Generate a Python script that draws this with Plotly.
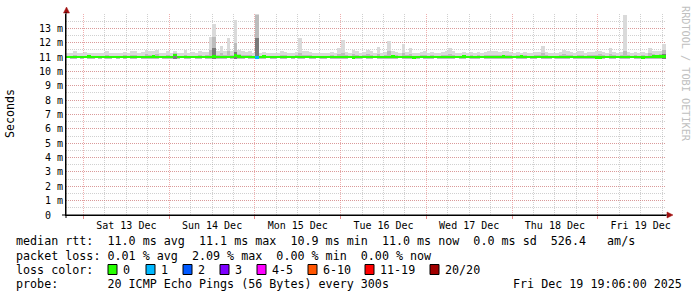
import pandas as pd
import plotly.graph_objects as go

# ---------------- data ----------------
START = "2025-12-12 19:06:00"
END = "2025-12-19 19:06:00"

# hourly smoke: top of outer (light) band, ms
smoke_hi = [
    11.30, 11.30, 11.45, 11.30, 11.25, 11.35, 11.30, 11.30, 11.30, 11.25, 11.30, 11.45, 11.30, 11.30, 11.30, 11.30, 11.35, 11.30, 11.45, 11.40, 11.30, 11.35, 11.50, 11.45,
    11.45, 11.50, 11.30, 11.30, 11.45, 11.30, 11.45, 11.30, 11.30, 11.50, 11.30, 11.35, 11.30, 11.40, 11.35, 11.35, 12.40, 13.30, 11.40, 11.80, 11.40, 12.30, 11.45, 13.60,
    11.50, 11.40, 11.35, 11.40, 11.30, 14.00, 11.30, 11.35, 11.30, 11.25, 11.30, 11.30, 11.45, 11.35, 11.30, 11.30, 11.35, 12.30, 11.40, 11.40, 11.35, 11.30, 11.30, 11.30,
    11.30, 11.30, 11.35, 11.30, 11.60, 12.20, 11.35, 11.30, 11.50, 11.45, 11.30, 11.35, 11.50, 11.40, 11.30, 11.70, 11.30, 11.35, 12.10, 11.40, 11.35, 11.30, 11.90, 11.35,
    11.60, 11.30, 11.30, 11.35, 11.40, 11.30, 11.35, 11.30, 11.30, 11.35, 11.40, 11.60, 11.40, 11.30, 11.30, 11.35, 11.30, 11.35, 11.30, 11.35, 11.30, 11.35, 11.40, 11.40,
    11.40, 11.35, 11.40, 11.40, 11.35, 11.30, 11.35, 11.30, 11.35, 11.30, 11.30, 11.35, 11.35, 11.80, 11.35, 11.30, 11.30, 11.30, 11.35, 11.50, 11.40, 11.35, 11.30, 11.40,
    11.40, 11.30, 11.35, 11.35, 11.40, 11.45, 11.35, 11.30, 11.60, 11.35, 11.30, 11.35, 13.90, 11.35, 11.30, 11.35, 11.30, 11.35, 11.30, 11.60, 11.45, 11.40, 11.45, 11.90,
]

# top of the middle (medium gray) band, ms
smoke_mid = [
    11.10, 11.10, 11.15, 11.10, 11.10, 11.10, 11.12, 11.10, 11.10, 11.10, 11.10, 11.15, 11.10, 11.10, 11.10, 11.10, 11.12, 11.10, 11.15, 11.12, 11.10, 11.10, 11.20, 11.15,
    11.15, 11.20, 11.10, 11.10, 11.15, 11.10, 11.25, 11.10, 11.10, 11.15, 11.10, 11.10, 11.10, 11.15, 11.10, 11.12, 11.50, 12.40, 11.15, 11.30, 11.12, 11.40, 11.15, 12.00,
    11.20, 11.15, 11.12, 11.15, 11.10, 13.90, 11.10, 11.12, 11.10, 11.10, 11.10, 11.10, 11.15, 11.12, 11.10, 11.10, 11.12, 11.30, 11.15, 11.15, 11.12, 11.10, 11.10, 11.10,
    11.10, 11.10, 11.12, 11.10, 11.20, 11.30, 11.12, 11.10, 11.20, 11.15, 11.10, 11.12, 11.20, 11.15, 11.10, 11.20, 11.10, 11.12, 11.40, 11.15, 11.12, 11.10, 11.30, 11.12,
    11.20, 11.10, 11.10, 11.12, 11.15, 11.10, 11.12, 11.10, 11.10, 11.12, 11.15, 11.20, 11.15, 11.10, 11.10, 11.12, 11.10, 11.12, 11.10, 11.12, 11.10, 11.12, 11.15, 11.15,
    11.15, 11.12, 11.15, 11.15, 11.12, 11.10, 11.12, 11.10, 11.12, 11.10, 11.10, 11.12, 11.12, 11.25, 11.12, 11.10, 11.10, 11.10, 11.12, 11.20, 11.15, 11.12, 11.10, 11.15,
    11.15, 11.10, 11.12, 11.12, 11.15, 11.20, 11.12, 11.10, 11.20, 11.12, 11.10, 11.12, 11.40, 11.12, 11.10, 11.12, 11.10, 11.12, 11.10, 11.25, 11.20, 11.15, 11.20, 11.50,
]

# bottom of smoke, ms
smoke_lo = [
    10.92, 10.90, 10.88, 10.92, 10.90, 10.92, 10.86, 10.88, 10.92, 10.90, 10.92, 10.90, 10.88, 10.92, 10.90, 10.92, 10.90, 10.92, 10.88, 10.90, 10.92, 10.90, 10.88, 10.90,
    10.86, 10.90, 10.92, 10.90, 10.88, 10.90, 10.85, 10.90, 10.92, 10.90, 10.88, 10.92, 10.90, 10.88, 10.92, 10.90, 10.88, 10.85, 10.90, 10.88, 10.90, 10.92, 10.88, 10.86,
    10.88, 10.90, 10.92, 10.90, 10.88, 10.85, 10.90, 10.88, 10.92, 10.90, 10.88, 10.92, 10.90, 10.88, 10.92, 10.90, 10.92, 10.88, 10.90, 10.92, 10.90, 10.88, 10.92, 10.90,
    10.90, 10.92, 10.88, 10.90, 10.88, 10.86, 10.90, 10.92, 10.86, 10.88, 10.90, 10.92, 10.88, 10.90, 10.92, 10.85, 10.90, 10.88, 10.86, 10.90, 10.88, 10.92, 10.86, 10.90,
    10.86, 10.88, 10.90, 10.92, 10.90, 10.88, 10.90, 10.92, 10.88, 10.90, 10.88, 10.86, 10.90, 10.92, 10.88, 10.90, 10.92, 10.90, 10.88, 10.90, 10.92, 10.90, 10.88, 10.86,
    10.88, 10.90, 10.86, 10.90, 10.88, 10.92, 10.90, 10.88, 10.90, 10.92, 10.88, 10.90, 10.92, 10.86, 10.90, 10.88, 10.92, 10.90, 10.88, 10.86, 10.90, 10.92, 10.90, 10.88,
    10.86, 10.90, 10.88, 10.86, 10.85, 10.86, 10.90, 10.92, 10.88, 10.90, 10.92, 10.90, 10.86, 10.90, 10.92, 10.88, 10.90, 10.85, 10.90, 10.88, 10.86, 10.86, 10.88, 10.86,
]

# hours where a dark core is visible, and its top (ms)
dark_hours = [30, 41, 47, 53, 167]
dark_top = [11.15, 11.60, 11.35, 12.30, 11.20]

# median rtt per hour, ms
median = [
    11.00, 11.00, 11.00, 11.00, 11.00, 11.00, 11.05, 11.00, 11.00, 11.00, 11.00, 11.00, 11.00, 11.00, 11.00, 11.00, 11.00, 11.00, 11.00, 11.00, 11.00, 11.00, 11.00, 11.00,
    11.05, 11.00, 11.00, 11.00, 11.00, 11.00, 11.15, 11.00, 11.00, 11.00, 11.00, 11.00, 11.00, 11.00, 11.00, 11.00, 11.00, 11.03, 11.00, 11.00, 11.00, 11.00, 11.00, 11.12,
    11.02, 11.00, 11.00, 11.00, 11.00, 10.98, 11.00, 11.02, 11.00, 11.00, 11.00, 11.00, 11.00, 11.00, 11.00, 11.00, 11.00, 11.00, 11.00, 11.00, 11.00, 11.00, 11.00, 11.00,
    11.00, 11.00, 11.00, 11.00, 11.00, 11.00, 11.00, 11.00, 10.98, 11.00, 11.00, 11.00, 11.00, 11.00, 11.00, 11.00, 11.00, 11.00, 11.00, 11.02, 11.00, 11.00, 11.00, 11.00,
    11.00, 10.98, 11.00, 11.00, 11.00, 11.00, 11.00, 11.00, 11.00, 11.00, 11.00, 11.00, 11.00, 11.00, 11.00, 11.02, 11.00, 11.00, 11.00, 11.00, 11.00, 11.00, 11.00, 11.00,
    11.00, 11.00, 11.02, 11.00, 11.00, 11.00, 11.00, 11.02, 11.00, 11.00, 11.00, 11.00, 11.00, 11.00, 11.00, 11.00, 11.00, 11.00, 11.00, 11.00, 11.00, 11.00, 11.00, 11.00,
    11.00, 11.00, 11.00, 11.00, 10.98, 10.98, 11.00, 11.00, 11.00, 11.00, 11.00, 11.00, 11.00, 11.00, 11.00, 11.00, 11.00, 10.98, 11.00, 11.00, 11.02, 11.02, 11.02, 11.02,
]

# lost pings (of 20) per hour
loss = [
    0, 0, 0, 0, 0, 0, 0, 0, 0, 0, 0, 0, 0, 0, 0, 0, 0, 0, 0, 0, 0, 0, 0, 0,
    0, 0, 0, 0, 0, 0, 0, 0, 0, 0, 0, 0, 0, 0, 0, 0, 0, 0, 0, 0, 0, 0, 0, 0,
    0, 0, 0, 0, 0, 1, 0, 0, 0, 0, 0, 0, 0, 0, 0, 0, 0, 0, 0, 0, 0, 0, 0, 0,
    0, 0, 0, 0, 0, 0, 0, 0, 0, 0, 0, 0, 0, 0, 0, 0, 0, 0, 0, 0, 0, 0, 0, 0,
    0, 0, 0, 0, 0, 0, 0, 0, 0, 0, 0, 0, 0, 0, 0, 0, 0, 0, 0, 0, 0, 0, 0, 0,
    0, 0, 0, 0, 0, 0, 0, 0, 0, 0, 0, 0, 0, 0, 0, 0, 0, 0, 0, 0, 0, 0, 0, 0,
    0, 0, 0, 0, 0, 0, 0, 0, 0, 0, 0, 0, 0, 0, 0, 0, 0, 0, 0, 0, 0, 0, 0, 0,
]

loss_labels = ["0", "1", "2", "3", "4-5", "6-10", "11-19", "20/20"]
loss_upper = [0, 1, 2, 3, 5, 10, 19, 20]
loss_colors = ["#26ff00", "#00b8ff", "#0059ff", "#7e00ff", "#ff00ff", "#ff5500", "#ff0000", "#a10000"]

y_tick_vals = list(range(14))
y_tick_text = ["0\u00a0\u00a0"] + [f"{v}\u00a0m" for v in range(1, 14)]

legend_rtt = "median rtt:  11.0 ms avg  11.1 ms max  10.9 ms min  11.0 ms now  0.0 ms sd  526.4   am/s"
legend_loss = "packet loss: 0.01 % avg  2.09 % max  0.00 % min  0.00 % now"
legend_probe = "probe:       20 ICMP Echo Pings (56 Bytes) every 300s"
legend_date = "Fri Dec 19 19:06:00 2025"

# ---------------- figure ----------------
W, H = 697, 297
L, R, T, B = 66, 666, 14, 215
PW, PH = R - L, B - T
MONO = "DejaVu Sans Mono"


def px_x(x):
    return (x - L) / PW


def px_y(y):
    return (B - y) / PH


times = pd.date_range(START, periods=len(median), freq="h") + pd.Timedelta(minutes=30)
HOUR_MS = 3600 * 1000

fig = go.Figure()
fig.add_trace(go.Bar(x=times, y=[h - l for h, l in zip(smoke_hi, smoke_lo)], base=smoke_lo,
                     width=HOUR_MS, marker=dict(color="#dadada", line=dict(width=0)), hoverinfo="skip"))
fig.add_trace(go.Bar(x=times, y=[m - l for m, l in zip(smoke_mid, smoke_lo)], base=smoke_lo,
                     width=HOUR_MS, marker=dict(color="#bcbcbc", line=dict(width=0)), hoverinfo="skip"))
fig.add_trace(go.Bar(x=[times[i] for i in dark_hours],
                     y=[t - smoke_lo[i] for i, t in zip(dark_hours, dark_top)],
                     base=[smoke_lo[i] for i in dark_hours],
                     width=HOUR_MS, marker=dict(color="#7a7a7a", line=dict(width=0)), hoverinfo="skip"))


def loss_color(n):
    for up, c in zip(loss_upper, loss_colors):
        if n <= up:
            return c
    return loss_colors[-1]


MED_HALF = 0.09
fig.add_trace(go.Bar(x=times, y=[2 * MED_HALF] * len(median), base=[m - MED_HALF for m in median],
                     width=HOUR_MS, marker=dict(color=[loss_color(n) for n in loss], line=dict(width=0))))

major_grid = "rgba(225,110,110,0.55)"
minor_grid = "rgba(150,150,150,0.45)"

fig.update_layout(
    width=W, height=H, autosize=False,
    margin=dict(l=L, r=W - R, t=T, b=H - B, pad=0),
    paper_bgcolor="white", plot_bgcolor="white",
    barmode="overlay", bargap=0, showlegend=False,
    font=dict(family=MONO, size=10, color="black"),
    xaxis=dict(
        type="date", range=[START, END],
        tickmode="linear", tick0="2025-12-13", dtick=86400000,
        tickformat="%a %d %b", ticklabelmode="period",
        showgrid=True, gridcolor=major_grid, griddash="1px,1px", gridwidth=1,
        minor=dict(tick0="2025-12-13", dtick=21600000, showgrid=True,
                   gridcolor=minor_grid, griddash="1px,1px", gridwidth=1),
        showline=True, linecolor="black", linewidth=1,
        ticks="outside", ticklen=3, tickcolor="rgba(225,110,110,0.8)",
        ticklabelstandoff=-2,
        zeroline=False, tickfont=dict(family=MONO, size=10, color="black"),
    ),
    yaxis=dict(
        range=[0, 14], tickmode="array", tickvals=y_tick_vals, ticktext=y_tick_text,
        showgrid=True, gridcolor=major_grid, griddash="1px,1px", gridwidth=1,
        minor=dict(tickmode="linear", tick0=0, dtick=0.5, showgrid=True,
                   gridcolor=minor_grid, griddash="1px,1px", gridwidth=1),
        showline=True, linecolor="black", linewidth=1, zeroline=False,
        ticks="", tickfont=dict(family=MONO, size=10, color="black"),
    ),
)

ann = []
ann.append(dict(text="Seconds", x=px_x(10), y=px_y(114), xref="paper", yref="paper",
                textangle=-90, showarrow=False, xanchor="center", yanchor="middle",
                font=dict(family=MONO, size=11.6, color="black")))
ann.append(dict(text="RRDTOOL / TOBI OETIKER", x=px_x(686), y=px_y(74), xref="paper", yref="paper",
                textangle=90, showarrow=False, xanchor="center", yanchor="middle",
                font=dict(family=MONO, size=10.2, color="#c0c0c0")))

LEG_FONT = dict(family=MONO, size=11.7, color="black")


def text_at(s, x, y, anchor="left"):
    ann.append(dict(text=s.replace(" ", "\u00a0"), x=px_x(x), y=px_y(y), xref="paper", yref="paper",
                    showarrow=False, xanchor=anchor, yanchor="middle", font=LEG_FONT,
                    borderpad=0, borderwidth=0))


text_at(legend_rtt, 16, 241)
text_at(legend_loss, 16, 255.5)
text_at("loss color:", 16, 269.5)
text_at(legend_probe, 16, 284)
text_at(legend_date, 682, 284, anchor="right")

box_x = [108, 146, 183, 220, 257, 308, 365, 430]
shapes = []
for bx, lab, col in zip(box_x, loss_labels, loss_colors):
    shapes.append(dict(type="rect", xref="paper", yref="paper",
                       x0=px_x(bx), x1=px_x(bx + 9), y0=px_y(274.5), y1=px_y(264.5),
                       fillcolor=col, line=dict(color="black", width=1)))
    text_at(lab, bx + 15, 269.5)

# axis arrows
arrow_col = "#a01010"
shapes.append(dict(type="path", xref="paper", yref="paper",
                   path=f"M {px_x(667)},{px_y(212)} L {px_x(673)},{px_y(215)} L {px_x(667)},{px_y(218)} Z",
                   fillcolor=arrow_col, line=dict(color=arrow_col, width=0.5)))
shapes.append(dict(type="path", xref="paper", yref="paper",
                   path=f"M {px_x(63.5)},{px_y(13)} L {px_x(66.5)},{px_y(7)} L {px_x(69.5)},{px_y(13)} Z",
                   fillcolor=arrow_col, line=dict(color=arrow_col, width=0.5)))
# axis extensions beyond plot area
shapes.append(dict(type="line", xref="paper", yref="paper", x0=px_x(62), x1=px_x(667),
                   y0=0, y1=0, line=dict(color="black", width=1)))
shapes.append(dict(type="line", xref="paper", yref="paper", x0=0, x1=0,
                   y0=px_y(218), y1=px_y(12), line=dict(color="black", width=1)))

fig.update_layout(annotations=ann, shapes=shapes)
fig.write_html("out.html")
